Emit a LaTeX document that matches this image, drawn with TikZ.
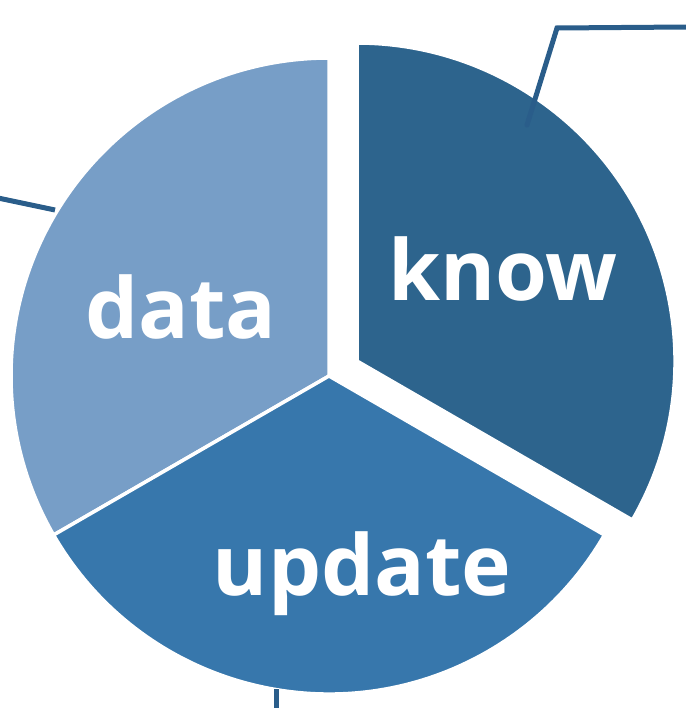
\documentclass[tikz,border=0pt]{standalone}
\usepackage{fontspec}
\setmainfont{Open Sans}
\definecolor{dataBlue}{RGB}{119,158,199}
\definecolor{knowBlue}{RGB}{45,100,141}
\definecolor{updateBlue}{RGB}{55,119,172}
\definecolor{leaderBlue}{RGB}{42,93,138}
\tikzset{
	slice/.style={draw=white, line width=3.5pt, line join=round},
	leader/.style={draw=leaderBlue, line width=5pt, line cap=round, line join=miter},
	sliceText/.style={text=white, font=\fontsize{84}{84}\selectfont\bfseries, inner sep=0pt, anchor=base}
}

\begin{document}
\begin{tikzpicture}[x=1pt,y=1pt,yscale=-1,xscale=1]
	\useasboundingbox (0,0) rectangle (685,708);

	% Centres
	\coordinate (ctr) at (329,376);
	\coordinate (ctrKnow) at (357,361);

	% Slice data
	\fill [dataBlue, slice]  (ctr) -- ++(-90:318) arc [start angle=-90, end angle=-210, radius=318] -- cycle ;
	% Slice update
	\fill [updateBlue, slice]  (ctr) -- ++(-210:318) arc [start angle=-210, end angle=-330, radius=318] -- cycle ;
	% Slice know
	\fill [knowBlue, slice]  (ctrKnow) -- ++(30:318) arc [start angle=30, end angle=-90, radius=318] -- cycle ;

	% Text Node
	\node (data) [sliceText] at (181,338) {data};
	% Text Node
	\node (know) [sliceText] at (503,300) {know};
	% Text Node
	\node (update) [sliceText] at (362,595) {update};

	% Leader ends
	\coordinate (knowIn) at (527,125);
	\coordinate (knowBend) at (557,28);
	\coordinate (knowOut) at (687,27);
	\coordinate (dataIn) at (55,210);
	\coordinate (dataOut) at (-2,198);
	\coordinate (updateIn) at (276,689);
	\coordinate (updateOut) at (276,710);

	% Connection
	\draw [leader]  (knowIn) -- (knowBend) -- (knowOut) ;
	% Connection
	\draw [leader, line cap=butt]  (dataIn) -- (dataOut) ;
	% Connection
	\draw [leader, line cap=butt]  (updateIn) -- (updateOut) ;

\end{tikzpicture}
\end{document}
